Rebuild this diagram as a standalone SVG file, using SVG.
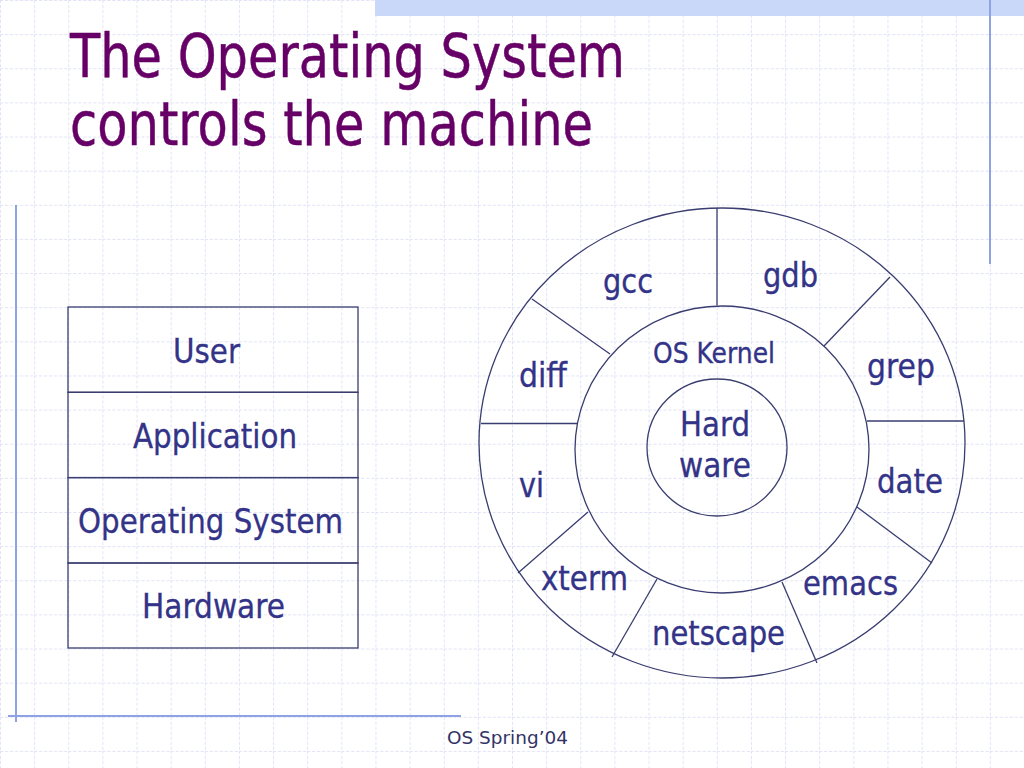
<svg xmlns="http://www.w3.org/2000/svg" width="1024" height="768" viewBox="0 0 1024 768">
<defs>
<pattern id="grid" patternUnits="userSpaceOnUse" width="34.1333" height="34.1333">
<path d="M0.5 0 V34.1333 M0 0.5 H34.1333" stroke="#dfe2f6" stroke-width="1" stroke-dasharray="3 2" fill="none"/>
</pattern>
<style>
.t{font-family:"DejaVu Sans","Noto Sans",sans-serif;fill:#333388;stroke:#333388;stroke-width:0.35;}
.lab{font-size:34px;}
.ttl{font-family:"DejaVu Sans","Noto Sans",sans-serif;fill:#660066;stroke:#660066;stroke-width:0.5;font-size:61px;}
.ln{stroke:#3a3d70;stroke-width:1.3;fill:none;}
.deco{stroke:#8ea2e6;stroke-width:2;fill:none;}
</style>
</defs>
<rect width="1024" height="768" fill="#ffffff"/>
<rect width="1024" height="768" fill="url(#grid)"/>
<rect x="375" y="0" width="649" height="16" fill="#c9d8f8"/>
<line class="deco" x1="990" y1="0" x2="990" y2="264"/>
<line class="deco" x1="16" y1="205" x2="16" y2="722"/>
<line class="deco" x1="8" y1="716" x2="461" y2="716"/>

<g id="title">
<text class="ttl" x="70" y="77" textLength="555" lengthAdjust="spacingAndGlyphs">The Operating System</text>
<text class="ttl" x="70" y="145" textLength="523" lengthAdjust="spacingAndGlyphs">controls the machine</text>
</g>

<g id="layer-stack">
<g id="layer-user">
<rect class="ln" x="68" y="307" width="290" height="85.3"/>
<text class="t lab" x="173" y="363" textLength="67" lengthAdjust="spacingAndGlyphs">User</text>
</g>
<g id="layer-application">
<rect class="ln" x="68" y="392.3" width="290" height="85.3"/>
<text class="t lab" x="133" y="448" textLength="164" lengthAdjust="spacingAndGlyphs">Application</text>
</g>
<g id="layer-os">
<rect class="ln" x="68" y="477.6" width="290" height="85.4"/>
<text class="t lab" x="78" y="533" textLength="265" lengthAdjust="spacingAndGlyphs">Operating System</text>
</g>
<g id="layer-hardware">
<rect class="ln" x="68" y="563" width="290" height="85"/>
<text class="t lab" x="142" y="618" textLength="143" lengthAdjust="spacingAndGlyphs">Hardware</text>
</g>
</g>

<g id="ring-outer">
<ellipse class="ln" cx="722" cy="443" rx="243" ry="235"/>
</g>
<g id="ring-kernel">
<ellipse class="ln" cx="722" cy="449.5" rx="147" ry="143.5"/>
<text class="t" style="font-size:28px" x="653" y="363" textLength="122" lengthAdjust="spacingAndGlyphs">OS Kernel</text>
</g>
<g id="core-hardware">
<ellipse class="ln" cx="717" cy="447.5" rx="70" ry="68.5"/>
<text class="t lab" x="680" y="436" textLength="70" lengthAdjust="spacingAndGlyphs">Hard</text>
<text class="t lab" x="679" y="477" textLength="72" lengthAdjust="spacingAndGlyphs">ware</text>
</g>

<g id="connectors">
<line class="ln" x1="717" y1="208" x2="717" y2="305.5"/>
<line class="ln" x1="532" y1="299" x2="610" y2="354"/>
<line class="ln" x1="481" y1="423.5" x2="577.5" y2="423.5"/>
<line class="ln" x1="518" y1="573" x2="588" y2="512"/>
<line class="ln" x1="612" y1="657" x2="657" y2="579"/>
<line class="ln" x1="782" y1="582" x2="817" y2="663"/>
<line class="ln" x1="857" y1="507" x2="932" y2="563"/>
<line class="ln" x1="867" y1="421" x2="964" y2="421"/>
<line class="ln" x1="824" y1="346" x2="890" y2="277"/>
</g>

<g id="prog-gcc"><text class="t lab" x="603" y="293" textLength="50" lengthAdjust="spacingAndGlyphs">gcc</text></g>
<g id="prog-gdb"><text class="t lab" x="763" y="287" textLength="55" lengthAdjust="spacingAndGlyphs">gdb</text></g>
<g id="prog-diff"><text class="t lab" x="519" y="387" textLength="48" lengthAdjust="spacingAndGlyphs">diff</text></g>
<g id="prog-grep"><text class="t lab" x="867" y="378" textLength="68" lengthAdjust="spacingAndGlyphs">grep</text></g>
<g id="prog-vi"><text class="t lab" x="519" y="497" textLength="25" lengthAdjust="spacingAndGlyphs">vi</text></g>
<g id="prog-date"><text class="t lab" x="877" y="493" textLength="66" lengthAdjust="spacingAndGlyphs">date</text></g>
<g id="prog-xterm"><text class="t lab" x="541" y="590" textLength="87" lengthAdjust="spacingAndGlyphs">xterm</text></g>
<g id="prog-emacs"><text class="t lab" x="803" y="595" textLength="95" lengthAdjust="spacingAndGlyphs">emacs</text></g>
<g id="prog-netscape"><text class="t lab" x="652" y="645" textLength="133" lengthAdjust="spacingAndGlyphs">netscape</text></g>

<g id="footer">
<text class="t" style="font-size:18.5px;fill:#333366;stroke:none" x="447" y="744" textLength="121" lengthAdjust="spacingAndGlyphs">OS Spring’04</text>
</g>
</svg>
